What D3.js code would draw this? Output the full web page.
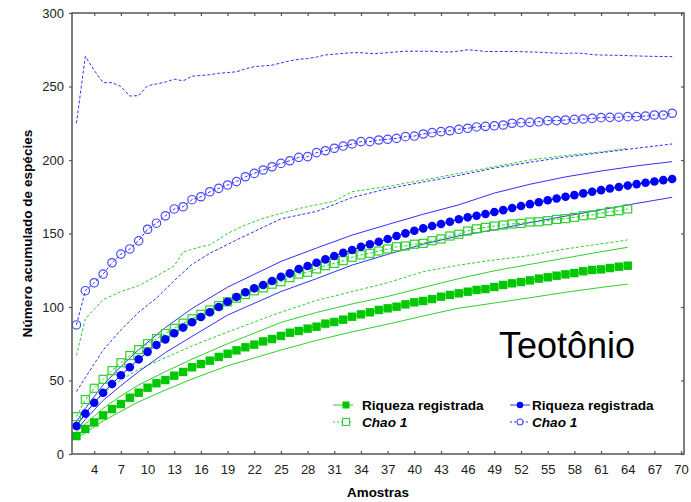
<!DOCTYPE html>
<html>
<head>
<meta charset="utf-8">
<script src="https://cdn.jsdelivr.net/npm/d3@7"></script>
<style>
  body { margin: 0; background: #fff; }
  svg { display: block; font-family: "Liberation Sans", Arial, sans-serif; }
</style>
</head>
<body>
<svg id="chart" width="691" height="502"></svg>
<script>
// Accumulated species curves, Teotônio site (samples 2..64 / 2..69)
const greenSamples = d3.range(2, 65);
const blueSamples = d3.range(2, 70);

// Green: observed richness and Chao 1
const greenRiqueza = [12.2, 17, 21.5, 26.3, 30.6, 34, 38.3, 41.7, 45.1, 48.1, 50.3, 53.3, 55.8, 59, 61.2, 63.5, 66, 68.2, 70.5, 72.6, 74.4, 76.6, 78.2, 80.3,
  82.5, 83.7, 85.3, 86.6, 88.7, 89.8, 91.4, 93.4, 95, 96.4, 98, 99.1, 100.2, 101.8, 103.2, 104.1, 105.4, 107, 108.2, 109.3, 110.4, 111.6,
  112.2, 113.6, 115, 116.1, 117, 118.1, 119.3, 120.2, 121.3, 122.2, 123.1, 124.3, 125.2, 125.6, 126.5, 127.4, 128.1];
const greenChao = [25.4, 37, 44.7, 50.8, 56.7, 62.1, 67, 71, 75, 78.5, 82, 85.5, 89, 92, 95, 98, 101, 103.5, 106, 108.5, 111, 113, 115.5,
  117.2, 120, 122.4, 123.6, 125.9, 128.1, 129.7, 131.5, 133.8, 135.4, 136.5, 138.1, 139.5, 141, 141.5, 142.7, 143.3, 145.1, 146.3, 148.3, 149.5, 151.7, 153.2,
  154.2, 155.1, 155.8, 156.5, 156.9, 157.8, 158, 158.7, 159.6, 160.1, 161, 162.1, 162.6, 163.7, 164.9, 165.5, 166.7];

// Blue: observed richness and Chao 1
const blueRiqueza = [19, 27.5, 34.9, 41.7, 47.6, 53.6, 59, 64.4, 69.5, 74.1, 78, 82.1, 86, 89.6, 93.2, 96.4, 100, 103.6, 106.8, 110, 112.7, 115, 117.7, 120.6,
  122.9, 125.9, 127.9, 130.1, 132.4, 134.7, 136.9, 138.8, 141, 142.7, 144.4, 146.3, 148.3, 150.1, 151.9, 153.5, 155.1, 156.5, 158, 159.7, 161, 162.1,
  163.3, 164.6, 165.9, 167.3, 168.7, 170, 171.3, 172.6, 173.8, 175, 176.1, 177.3, 178.4, 179.5, 180.6, 181.6, 182.6, 183.6, 184.5, 185.4, 186.3, 187.1];
const blueChao = [87.8, 111.1, 116.5, 122.4, 130.1, 136, 139.5, 145, 152.9, 157, 162, 166.7, 168.2, 173, 175, 178.4, 180.7, 183, 185.3, 188.6, 190.9, 193.2, 195.4, 197.7,
  199.5, 201.8, 202.3, 205, 206.3, 208, 209.5, 210.9, 212.5, 212.5, 213.6, 214.1, 214.7, 215.9, 216.3, 217.7, 218.6, 219.3, 219.9, 220.9, 221.6,
  222.5, 222.9, 223.3, 223.8, 225, 225.4, 225.6, 226, 226.8, 226.8, 227.2, 227.7, 227.9, 228.3, 228.8, 229, 229.1, 229.5, 229.5, 229.9, 230.6, 230.6, 231.8];
const blueChaoUpper = [225, 270.5, 261, 252.6, 252.6, 250, 243.5, 243.8, 250.5, 251.7, 253, 255, 253.8, 257, 257.5, 258, 259, 259.5, 260, 262, 263.5, 264, 264.5, 266, 267.5, 268.5, 269,
  270, 271.5, 272, 272.5, 273, 273, 272.5, 272.5, 273, 273.5, 274, 274, 274, 274, 273.5, 273.5, 274, 275, 274.5, 273.8, 273.8, 273.8, 273.8, 273.7, 273.5, 273.3, 273, 272.7, 272.5, 272.8, 272.5,
  271.7, 271.4, 271.3, 271.2, 271, 270.8, 270.6, 270.5, 270.4, 270.3];

// Confidence limits (read at selected samples)
const gBandSamples = [2, 3, 5, 7, 9, 12, 15, 19, 25, 29, 33, 37, 41, 45, 49, 53, 57, 61, 64];
const greenRiqUpper = [15, 20.5, 31, 39.5, 47, 56, 64.5, 75, 89.5, 96.3, 102.1, 107.2, 113.3, 119.3, 124.6, 129, 133.3, 137.6, 140.6];
const greenRiqLower = [10.5, 14.5, 22.5, 29, 35.5, 43.5, 51, 60, 70.7, 77.3, 83.1, 88.3, 93.9, 99.2, 102.7, 106.3, 110, 113.3, 115.6];
const greenChaoLower = [20, 28, 41, 50.5, 57.5, 65.5, 73.5, 83, 96.5, 104.5, 110.5, 116.5, 124, 128.5, 132, 135, 139.5, 143, 145.6];
const gChaoUpSamples = [2, 3, 5, 7, 9, 11, 13, 14, 16, 17, 19, 21, 23, 25, 27, 31, 33, 37, 40, 43, 46, 49, 53, 57, 61, 64];
const greenChaoUpper = [67, 92, 105, 110.5, 114.5, 121, 128, 137.5, 141, 142.2, 150, 155.8, 160.3, 163.7, 167, 172, 178.4, 182, 185.3, 188.6, 192, 195.4, 200, 203, 205.5, 208];

const bBandSamples = [2, 3, 5, 7, 9, 12, 15, 19, 25, 29, 33, 37, 41, 45, 49, 53, 57, 61, 65, 69];
const blueRiqUpper = [22, 31, 47, 59.5, 71, 86, 99, 113.5, 131, 140.1, 148.9, 156.1, 163.1, 169.5, 177.5, 183.5, 188.5, 192.5, 196, 198.9];
const blueRiqLower = [16, 23.5, 36.5, 46.5, 56, 69, 80, 94.5, 110.5, 119.3, 128.5, 135.8, 142.7, 148.4, 152.5, 157.4, 161.8, 166.1, 170.5, 174.6];
const bChaoLoSamples = [2, 3, 5, 7, 9, 11, 13, 15, 17, 20, 25, 29, 33, 37, 41, 45, 49, 53, 57, 61, 65, 69];
const blueChaoLower = [42.4, 52, 70.7, 84.4, 96.5, 106, 118, 129, 136.5, 145.6, 160, 165, 174.5, 180.5, 185, 189.5, 194.5, 198.5, 202, 205, 208, 210.9];

const xTicks = d3.range(4, 71, 3);
const yTicks = d3.range(0, 301, 50);
const legendLabels = ["Riqueza registrada", "Chao 1"];
const siteName = "Teotônio";

const GREEN = "#00c800", GREEN_LINE = "#2fcf2f";
const BLUE = "#0000ff", BLUE_LINE = "#3030ff", BLUE_OPEN = "#4a4aff";

const svg = d3.select("#chart");
const plotLeft = 72, plotRight = 684, plotTop = 13, plotBottom = 454;

const x = d3.scaleLinear().domain([1.5, 70.33]).range([plotLeft, plotRight]);
const y = d3.scaleLinear().domain([0, 300]).range([plotBottom, plotTop]);

const pairs = (xs, ys) => xs.map((s, i) => [s, ys[i]]);
const line = d3.line().x(d => x(d[0])).y(d => y(d[1]));

const plot = svg.append("g");

function drawLine(data, color, dash) {
  plot.append("path")
    .attr("d", line(data))
    .attr("fill", "none")
    .attr("stroke", color)
    .attr("stroke-width", 1)
    .attr("stroke-dasharray", dash || null);
}

// confidence limits
drawLine(pairs(gBandSamples, greenRiqUpper), GREEN_LINE);
drawLine(pairs(gBandSamples, greenRiqLower), GREEN_LINE);
drawLine(pairs(gBandSamples, greenChaoLower), GREEN_LINE, "3,2");
drawLine(pairs(gChaoUpSamples, greenChaoUpper), GREEN_LINE, "3,2");
drawLine(pairs(bBandSamples, blueRiqUpper), BLUE_LINE);
drawLine(pairs(bBandSamples, blueRiqLower), BLUE_LINE);
drawLine(pairs(bChaoLoSamples, blueChaoLower), BLUE_LINE, "3,2");
drawLine(pairs(blueSamples, blueChaoUpper), BLUE_LINE, "3,2");

// estimator curves
drawLine(pairs(greenSamples, greenChao), GREEN_LINE, "3,2");
drawLine(pairs(blueSamples, blueChao), BLUE_LINE, "3,2");
drawLine(pairs(greenSamples, greenRiqueza), GREEN);
drawLine(pairs(blueSamples, blueRiqueza), BLUE);

// markers
const sq = 8;
plot.append("g").selectAll("rect")
  .data(pairs(greenSamples, greenChao)).join("rect")
  .attr("x", d => x(d[0]) - sq / 2).attr("y", d => y(d[1]) - sq / 2)
  .attr("width", sq).attr("height", sq)
  .attr("fill", "none").attr("stroke", GREEN_LINE).attr("stroke-width", 1.2);

plot.append("g").selectAll("circle")
  .data(pairs(blueSamples, blueChao)).join("circle")
  .attr("cx", d => x(d[0])).attr("cy", d => y(d[1])).attr("r", 4.2)
  .attr("fill", "none").attr("stroke", BLUE_OPEN).attr("stroke-width", 1.2);

plot.append("g").selectAll("rect")
  .data(pairs(greenSamples, greenRiqueza)).join("rect")
  .attr("x", d => x(d[0]) - 4.2).attr("y", d => y(d[1]) - 4.2)
  .attr("width", 8.4).attr("height", 8.4)
  .attr("fill", GREEN);

plot.append("g").selectAll("circle")
  .data(pairs(blueSamples, blueRiqueza)).join("circle")
  .attr("cx", d => x(d[0])).attr("cy", d => y(d[1])).attr("r", 4.3)
  .attr("fill", BLUE);

// axes
const AXIS = "#555";
const axisStyle = g => {
  g.select(".domain").remove();
  g.selectAll("line").attr("stroke", AXIS).attr("stroke-width", 1.2);
  g.selectAll("text").attr("fill", "#222").attr("font-size", 13)
    .attr("font-family", "'Liberation Sans', Arial, sans-serif");
};

svg.append("g").attr("transform", `translate(0,${plotBottom})`)
  .call(d3.axisBottom(x).tickValues(xTicks).tickSize(-3).tickPadding(11).tickFormat(d3.format("d")))
  .call(axisStyle);
svg.append("g").attr("transform", `translate(0,${plotTop})`)
  .call(d3.axisTop(x).tickValues(xTicks).tickSize(-3).tickFormat(""))
  .call(axisStyle);
svg.append("g").attr("transform", `translate(${plotLeft},0)`)
  .call(d3.axisLeft(y).tickValues(yTicks).tickSize(3).tickPadding(5))
  .call(axisStyle);
svg.append("g").attr("transform", `translate(${plotRight},0)`)
  .call(d3.axisRight(y).tickValues(yTicks).tickSize(-3).tickFormat(""))
  .call(axisStyle);

svg.append("rect")
  .attr("x", plotLeft).attr("y", plotTop)
  .attr("width", plotRight - plotLeft).attr("height", plotBottom - plotTop)
  .attr("fill", "none").attr("stroke", AXIS).attr("stroke-width", 1.5);

// axis titles
svg.append("text")
  .attr("x", (plotLeft + plotRight) / 2).attr("y", 497)
  .attr("text-anchor", "middle").attr("font-weight", "bold").attr("font-size", 13.4)
  .text("Amostras");
svg.append("text")
  .attr("transform", `translate(32,${(plotTop + plotBottom) / 2}) rotate(-90)`)
  .attr("text-anchor", "middle").attr("font-weight", "bold").attr("font-size", 13.6)
  .text("Número acumulado de espécies");

// site name
svg.append("text")
  .attr("x", 499).attr("y", 358)
  .attr("font-size", 36).attr("fill", "#000")
  .text(siteName);

// legend
const legend = svg.append("g");
const legendCols = [
  { x0: 333, color: GREEN, lineColor: GREEN_LINE, shape: "square" },
  { x0: 510, color: BLUE, lineColor: BLUE_LINE, shape: "circle" }
];
legendCols.forEach(c => {
  [0, 1].forEach(row => {
    const cy = 405 + row * 17;
    legend.append("line")
      .attr("x1", c.x0).attr("x2", c.x0 + 20).attr("y1", cy).attr("y2", cy)
      .attr("stroke", c.lineColor).attr("stroke-width", 1)
      .attr("stroke-dasharray", row === 1 ? "2,2" : null);
    const mx = c.x0 + (c.shape === "square" ? 13 : 10);
    if (c.shape === "square") {
      legend.append("rect")
        .attr("x", mx - 3.5).attr("y", cy - 3.5).attr("width", 7).attr("height", 7)
        .attr("fill", row === 0 ? c.color : "#fff")
        .attr("stroke", row === 0 ? "none" : c.lineColor).attr("stroke-width", 1.1);
    } else {
      legend.append("circle")
        .attr("cx", mx).attr("cy", cy).attr("r", row === 0 ? 3.3 : 3)
        .attr("fill", row === 0 ? c.color : "#fff")
        .attr("stroke", row === 0 ? "none" : BLUE_OPEN).attr("stroke-width", 1.1);
    }
    legend.append("text")
      .attr("x", c.x0 + (c.shape === "square" ? 29 : 22)).attr("y", cy + 4.6)
      .attr("font-size", 13.6).attr("font-weight", "bold")
      .attr("font-style", row === 1 ? "italic" : null)
      .text(legendLabels[row]);
  });
});
</script>
</body>
</html>
